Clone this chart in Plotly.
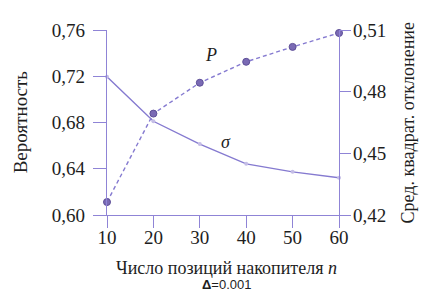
import plotly.graph_objects as go

n_positions = [10, 20, 30, 40, 50, 60]
prob_P = [0.6112, 0.6877, 0.7144, 0.7325, 0.7454, 0.7574]
sigma = [0.4873, 0.4656, 0.4545, 0.4449, 0.4410, 0.4381]

left_ticks = [0.60, 0.64, 0.68, 0.72, 0.76]
right_ticks = [0.42, 0.45, 0.48, 0.51]
x_ticks = [10, 20, 30, 40, 50, 60]

axis_col = "#8f84d6"
line_col = "#857ad0"
marker_col = "#7a6ab4"
text_col = "#1e1e1e"
serif = "Liberation Serif"

fig = go.Figure()
fig.add_trace(go.Scatter(
    x=n_positions, y=sigma, yaxis="y2", mode="lines+markers",
    line=dict(color=line_col, width=1.4),
    marker=dict(size=4, color="#c4bde6"),
    cliponaxis=False, showlegend=False))
fig.add_trace(go.Scatter(
    x=n_positions, y=prob_P, yaxis="y", mode="lines+markers",
    line=dict(color=line_col, width=1.4, dash="4px,3px"),
    marker=dict(size=7, color=marker_col, line=dict(color="#5e4f98", width=1)),
    cliponaxis=False, showlegend=False))

tickfont = dict(family=serif, size=19, color=text_col)
fig.update_layout(
    width=428, height=294,
    margin=dict(l=99, r=97, t=20, b=87, pad=0),
    paper_bgcolor="white", plot_bgcolor="white",
    separators=", ",
    xaxis=dict(range=[10, 60], tickvals=x_ticks, ticks="outside", ticklen=12,
               tickcolor=axis_col, tickwidth=1.3, showline=True, linecolor=axis_col,
               linewidth=1.3, showgrid=False, zeroline=False, tickfont=tickfont,
               ticklabelstandoff=-7),
    yaxis=dict(range=[0.60, 0.76], tickvals=left_ticks, tickformat=".2f",
               ticks="outside", ticklen=13, tickcolor=axis_col, tickwidth=1.3,
               showline=True, linecolor=axis_col, linewidth=1.3, showgrid=False,
               zeroline=False, tickfont=tickfont, ticklabelstandoff=4),
    yaxis2=dict(range=[0.42, 0.51], tickvals=right_ticks, tickformat=".2f",
                overlaying="y", side="right", ticks="outside", ticklen=11,
                tickcolor=axis_col, tickwidth=1.3, showline=True, linecolor=axis_col,
                linewidth=1.3, showgrid=False, zeroline=False, tickfont=tickfont,
                ticklabelstandoff=-2),
)

def note(x, y, text, size, ref="paper", angle=0, family=serif):
    fig.add_annotation(x=x, y=y, xref="x" if ref == "data" else "paper",
                       yref="y" if ref == "data" else "paper", text=text,
                       textangle=angle, showarrow=False, xanchor="center",
                       yanchor="middle", borderpad=0,
                       font=dict(family=family, size=size, color=text_col))

note(32.4, 0.738, "<i>P</i>", 18, ref="data")
note(35.6, 0.6632, "<i>σ</i>", 18, ref="data")
note(-0.375, 0.501, "Вероятность", 19, angle=-90)
note(1.297, 0.50, "Сред. квадрат. отклонение", 18, angle=-90)
note(0.517, -0.285, "Число позиций накопителя <i>n</i>", 18)
note(0.517, -0.378, "<b>Δ</b>=0.001", 13, family="Liberation Sans")

fig.write_html("out.html")
